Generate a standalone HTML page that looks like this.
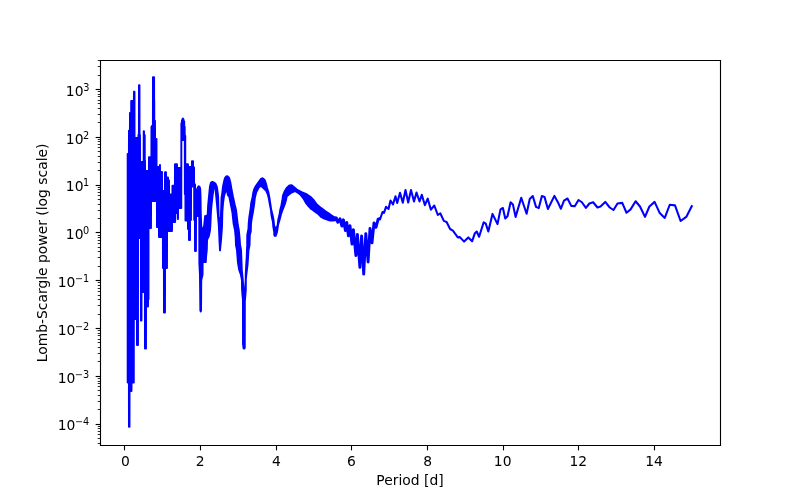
<!DOCTYPE html>
<html><head><meta charset="utf-8"><style>html,body{margin:0;padding:0;background:#fff;}svg{display:block;will-change:transform;}</style></head><body>
<svg width="800" height="500" viewBox="0 0 576 360" version="1.1">
 
 <defs>
  <style type="text/css">*{stroke-linejoin: round; stroke-linecap: butt}</style>
 </defs>
 <g id="figure_1">
  <g id="patch_1">
   <path d="M 0 360 
L 576 360 
L 576 0 
L 0 0 
z
" style="fill: #ffffff"/>
  </g>
  <g id="axes_1">
   <g id="patch_2">
    <path d="M 72 320.4 
L 518.4 320.4 
L 518.4 43.2 
L 72 43.2 
z
" style="fill: #ffffff"/>
   </g>
   <g id="matplotlib.axis_1">
    <g id="xtick_1">
     <g id="line2d_1">
      <defs>
       <path id="m5830cb89d6" d="M 0 0 
L 0 3.5 
" style="stroke: #000000; stroke-width: 0.8"/>
      </defs>
      <g>
       <use href="#m5830cb89d6" x="89.6400" y="320.7600" style="stroke: #000000; stroke-width: 0.8"/>
      </g>
     </g>
     <g id="text_1" transform="translate(0.6817 0.7808)">
      <text style="font-size: 10px; font-family: 'DejaVu Sans', sans-serif; text-anchor: middle" x="89.567297" y="334.998438" transform="rotate(-0 89.567297 334.998438)">0</text>
     </g>
    </g>
    <g id="xtick_2">
     <g id="line2d_2">
      <g>
       <use href="#m5830cb89d6" x="144.3600" y="320.7600" style="stroke: #000000; stroke-width: 0.8"/>
      </g>
     </g>
     <g id="text_2" transform="translate(0.0000 0.7148)">
      <text style="font-size: 10px; font-family: 'DejaVu Sans', sans-serif; text-anchor: middle" x="144.039536" y="334.998438" transform="rotate(-0 144.039536 334.998438)">2</text>
     </g>
    </g>
    <g id="xtick_3">
     <g id="line2d_3">
      <g>
       <use href="#m5830cb89d6" x="199.0800" y="320.7600" style="stroke: #000000; stroke-width: 0.8"/>
      </g>
     </g>
     <g id="text_3" transform="translate(0.5565 0.6737)">
      <text style="font-size: 10px; font-family: 'DejaVu Sans', sans-serif; text-anchor: middle" x="198.511775" y="334.998438" transform="rotate(-0 198.511775 334.998438)">4</text>
     </g>
    </g>
    <g id="xtick_4">
     <g id="line2d_4">
      <g>
       <use href="#m5830cb89d6" x="253.0800" y="320.7600" style="stroke: #000000; stroke-width: 0.8"/>
      </g>
     </g>
     <g id="text_4" transform="translate(0.0000 0.8018)">
      <text style="font-size: 10px; font-family: 'DejaVu Sans', sans-serif; text-anchor: middle" x="252.984015" y="334.998438" transform="rotate(-0 252.984015 334.998438)">6</text>
     </g>
    </g>
    <g id="xtick_5">
     <g id="line2d_5">
      <g>
       <use href="#m5830cb89d6" x="307.8000" y="320.7600" style="stroke: #000000; stroke-width: 0.8"/>
      </g>
     </g>
     <g id="text_5" transform="translate(0.4285 0.7590)">
      <text style="font-size: 10px; font-family: 'DejaVu Sans', sans-serif; text-anchor: middle" x="307.456254" y="334.998438" transform="rotate(-0 307.456254 334.998438)">8</text>
     </g>
    </g>
    <g id="xtick_6">
     <g id="line2d_6">
      <g>
       <use href="#m5830cb89d6" x="362.5200" y="320.7600" style="stroke: #000000; stroke-width: 0.8"/>
      </g>
     </g>
     <g id="text_6" transform="translate(0.0000 0.7494)">
      <text style="font-size: 10px; font-family: 'DejaVu Sans', sans-serif; text-anchor: middle" x="361.928493" y="334.998438" transform="rotate(-0 361.928493 334.998438)">10</text>
     </g>
    </g>
    <g id="xtick_7">
     <g id="line2d_7">
      <g>
       <use href="#m5830cb89d6" x="416.5200" y="320.7600" style="stroke: #000000; stroke-width: 0.8"/>
      </g>
     </g>
     <g id="text_7" transform="translate(0.0000 0.7138)">
      <text style="font-size: 10px; font-family: 'DejaVu Sans', sans-serif; text-anchor: middle" x="416.400732" y="334.998438" transform="rotate(-0 416.400732 334.998438)">12</text>
     </g>
    </g>
    <g id="xtick_8">
     <g id="line2d_8">
      <g>
       <use href="#m5830cb89d6" x="471.2400" y="320.7600" style="stroke: #000000; stroke-width: 0.8"/>
      </g>
     </g>
     <g id="text_8" transform="translate(0.0000 0.6912)">
      <text style="font-size: 10px; font-family: 'DejaVu Sans', sans-serif; text-anchor: middle" x="470.872971" y="334.998438" transform="rotate(-0 470.872971 334.998438)">14</text>
     </g>
    </g>
    <g id="text_9" transform="translate(0.0000 0.7630)">
     <text style="font-size: 10px; font-family: 'DejaVu Sans', sans-serif; text-anchor: middle" x="295.2" y="348.676562" transform="rotate(-0 295.2 348.676562)">Period [d]</text>
    </g>
    </g>
   <g id="matplotlib.axis_2">
    <g id="ytick_1">
     <g id="line2d_9">
      <defs>
       <path id="md306259b3c" d="M 0 0 
L -3.5 0 
" style="stroke: #000000; stroke-width: 0.8"/>
      </defs>
      <g>
       <use href="#md306259b3c" x="72.3600" y="305.6400" style="stroke: #000000; stroke-width: 0.8"/>
      </g>
     </g>
     <g id="text_10" transform="translate(0.0000 0.7513)">
      
      <g transform="translate(41.5 308.856985)">
       <text>
        <tspan x="0" y="-0.064063" style="font-size: 10px; font-family: 'DejaVu Sans', sans-serif">1</tspan>
        <tspan x="6.362305" y="-0.064063" style="font-size: 10px; font-family: 'DejaVu Sans', sans-serif">0</tspan>
        <tspan x="12.4232" y="-3.8922" style="font-size: 7px; font-family: 'DejaVu Sans', sans-serif">−</tspan>
        <tspan x="18.2884" y="-3.8922" style="font-size: 7px; font-family: 'DejaVu Sans', sans-serif">4</tspan>
       </text>
      </g>
    </g>
    </g>
    <g id="ytick_2">
     <g id="line2d_10">
      <g>
       <use href="#md306259b3c" x="72.3600" y="271.0800" style="stroke: #000000; stroke-width: 0.8"/>
      </g>
     </g>
     <g id="text_11" transform="translate(0.0000 2.1913)">
      
      <g transform="translate(41.5 274.42648)">
       <text>
        <tspan x="0" y="-0.976562" style="font-size: 10px; font-family: 'DejaVu Sans', sans-serif">1</tspan>
        <tspan x="6.362305" y="-0.976562" style="font-size: 10px; font-family: 'DejaVu Sans', sans-serif">0</tspan>
        <tspan x="12.4136" y="-4.1520" style="font-size: 7px; font-family: 'DejaVu Sans', sans-serif">−</tspan>
        <tspan x="18.2789" y="-4.1520" style="font-size: 7px; font-family: 'DejaVu Sans', sans-serif">3</tspan>
       </text>
      </g>
    </g>
    </g>
    <g id="ytick_3">
     <g id="line2d_11">
      <g>
       <use href="#md306259b3c" x="72.3600" y="236.5200" style="stroke: #000000; stroke-width: 0.8"/>
      </g>
     </g>
     <g id="text_12" transform="translate(0.0000 2.1913)">
      
      <g transform="translate(41.5 239.995974)">
       <text>
        <tspan x="0" y="-0.976562" style="font-size: 10px; font-family: 'DejaVu Sans', sans-serif">1</tspan>
        <tspan x="6.362305" y="-0.976562" style="font-size: 10px; font-family: 'DejaVu Sans', sans-serif">0</tspan>
        <tspan x="12.4303" y="-4.8047" style="font-size: 7px; font-family: 'DejaVu Sans', sans-serif">−</tspan>
        <tspan x="18.2955" y="-4.8047" style="font-size: 7px; font-family: 'DejaVu Sans', sans-serif">2</tspan>
       </text>
      </g>
    </g>
    </g>
    <g id="ytick_4">
     <g id="line2d_12">
      <g>
       <use href="#md306259b3c" x="72.3600" y="201.9600" style="stroke: #000000; stroke-width: 0.8"/>
      </g>
     </g>
     <g id="text_13" transform="translate(0.0000 1.4713)">
      
      <g transform="translate(41.5 205.565469)">
       <text>
        <tspan x="0" y="-0.064063" style="font-size: 10px; font-family: 'DejaVu Sans', sans-serif">1</tspan>
        <tspan x="6.362305" y="-0.064063" style="font-size: 10px; font-family: 'DejaVu Sans', sans-serif">0</tspan>
        <tspan x="12.4384" y="-3.8922" style="font-size: 7px; font-family: 'DejaVu Sans', sans-serif">−</tspan>
        <tspan x="18.3036" y="-3.8922" style="font-size: 7px; font-family: 'DejaVu Sans', sans-serif">1</tspan>
       </text>
      </g>
    </g>
    </g>
    <g id="ytick_5">
     <g id="line2d_13">
      <g>
       <use href="#md306259b3c" x="72.3600" y="167.4000" style="stroke: #000000; stroke-width: 0.8"/>
      </g>
     </g>
     <g id="text_14" transform="translate(0.0000 2.1896)">
      
      <g transform="translate(47.4 171.134963)">
       <text>
        <tspan x="0" y="-0.976562" style="font-size: 10px; font-family: 'DejaVu Sans', sans-serif">1</tspan>
        <tspan x="6.362305" y="-0.976562" style="font-size: 10px; font-family: 'DejaVu Sans', sans-serif">0</tspan>
        <tspan x="12.4434" y="-4.8047" style="font-size: 7px; font-family: 'DejaVu Sans', sans-serif">0</tspan>
       </text>
      </g>
    </g>
    </g>
    <g id="ytick_6">
     <g id="line2d_14">
      <g>
       <use href="#md306259b3c" x="72.3600" y="133.5600" style="stroke: #000000; stroke-width: 0.8"/>
      </g>
     </g>
     <g id="text_15" transform="translate(0.0000 0.7496)">
      
      <g transform="translate(47.4 136.704458)">
       <text>
        <tspan x="0" y="-0.064063" style="font-size: 10px; font-family: 'DejaVu Sans', sans-serif">1</tspan>
        <tspan x="6.362305" y="-0.064063" style="font-size: 10px; font-family: 'DejaVu Sans', sans-serif">0</tspan>
        <tspan x="12.4367" y="-3.2647" style="font-size: 7px; font-family: 'DejaVu Sans', sans-serif">1</tspan>
       </text>
      </g>
    </g>
    </g>
    <g id="ytick_7">
     <g id="line2d_15">
      <g>
       <use href="#md306259b3c" x="72.3600" y="99.0000" style="stroke: #000000; stroke-width: 0.8"/>
      </g>
     </g>
     <g id="text_16" transform="translate(0.0000 2.1896)">
      
      <g transform="translate(47.4 102.273952)">
       <text>
        <tspan x="0" y="-0.976562" style="font-size: 10px; font-family: 'DejaVu Sans', sans-serif">1</tspan>
        <tspan x="6.362305" y="-0.976562" style="font-size: 10px; font-family: 'DejaVu Sans', sans-serif">0</tspan>
        <tspan x="12.4275" y="-4.1746" style="font-size: 7px; font-family: 'DejaVu Sans', sans-serif">2</tspan>
       </text>
      </g>
    </g>
    </g>
    <g id="ytick_8">
     <g id="line2d_16">
      <g>
       <use href="#md306259b3c" x="72.3600" y="64.4400" style="stroke: #000000; stroke-width: 0.8"/>
      </g>
     </g>
     <g id="text_17" transform="translate(0.0000 2.1896)">
      
      <g transform="translate(47.4 67.843447)">
       <text>
        <tspan x="0" y="-0.976562" style="font-size: 10px; font-family: 'DejaVu Sans', sans-serif">1</tspan>
        <tspan x="6.362305" y="-0.976562" style="font-size: 10px; font-family: 'DejaVu Sans', sans-serif">0</tspan>
        <tspan x="12.4816" y="-4.8047" style="font-size: 7px; font-family: 'DejaVu Sans', sans-serif">3</tspan>
       </text>
      </g>
    </g>
    </g>
    <g id="ytick_9">
     <g id="line2d_17">
      <defs>
       <path id="mc47b0252c7" d="M 0 0 
L -2 0 
" style="stroke: #000000; stroke-width: 0.6"/>
      </defs>
      <g>
       <use href="#mc47b0252c7" x="72.3600" y="319.3200" style="stroke: #000000; stroke-width: 0.6"/>
      </g>
     </g>
    </g>
    <g id="ytick_10">
     <g id="line2d_18">
      <g>
       <use href="#mc47b0252c7" x="72.3600" y="315.7200" style="stroke: #000000; stroke-width: 0.6"/>
      </g>
     </g>
    </g>
    <g id="ytick_11">
     <g id="line2d_19">
      <g>
       <use href="#mc47b0252c7" x="72.3600" y="312.8400" style="stroke: #000000; stroke-width: 0.6"/>
      </g>
     </g>
    </g>
    <g id="ytick_12">
     <g id="line2d_20">
      <g>
       <use href="#mc47b0252c7" x="72.3600" y="310.6800" style="stroke: #000000; stroke-width: 0.6"/>
      </g>
     </g>
    </g>
    <g id="ytick_13">
     <g id="line2d_21">
      <g>
       <use href="#mc47b0252c7" x="72.3600" y="308.5200" style="stroke: #000000; stroke-width: 0.6"/>
      </g>
     </g>
    </g>
    <g id="ytick_14">
     <g id="line2d_22">
      <g>
       <use href="#mc47b0252c7" x="72.3600" y="307.0800" style="stroke: #000000; stroke-width: 0.6"/>
      </g>
     </g>
    </g>
    <g id="ytick_15">
     <g id="line2d_23">
      <g>
       <use href="#mc47b0252c7" x="72.3600" y="294.8400" style="stroke: #000000; stroke-width: 0.6"/>
      </g>
     </g>
    </g>
    <g id="ytick_16">
     <g id="line2d_24">
      <g>
       <use href="#mc47b0252c7" x="72.3600" y="289.0800" style="stroke: #000000; stroke-width: 0.6"/>
      </g>
     </g>
    </g>
    <g id="ytick_17">
     <g id="line2d_25">
      <g>
       <use href="#mc47b0252c7" x="72.3600" y="284.7600" style="stroke: #000000; stroke-width: 0.6"/>
      </g>
     </g>
    </g>
    <g id="ytick_18">
     <g id="line2d_26">
      <g>
       <use href="#mc47b0252c7" x="72.3600" y="281.1600" style="stroke: #000000; stroke-width: 0.6"/>
      </g>
     </g>
    </g>
    <g id="ytick_19">
     <g id="line2d_27">
      <g>
       <use href="#mc47b0252c7" x="72.3600" y="278.2800" style="stroke: #000000; stroke-width: 0.6"/>
      </g>
     </g>
    </g>
    <g id="ytick_20">
     <g id="line2d_28">
      <g>
       <use href="#mc47b0252c7" x="72.3600" y="276.1200" style="stroke: #000000; stroke-width: 0.6"/>
      </g>
     </g>
    </g>
    <g id="ytick_21">
     <g id="line2d_29">
      <g>
       <use href="#mc47b0252c7" x="72.3600" y="274.6800" style="stroke: #000000; stroke-width: 0.6"/>
      </g>
     </g>
    </g>
    <g id="ytick_22">
     <g id="line2d_30">
      <g>
       <use href="#mc47b0252c7" x="72.3600" y="272.5200" style="stroke: #000000; stroke-width: 0.6"/>
      </g>
     </g>
    </g>
    <g id="ytick_23">
     <g id="line2d_31">
      <g>
       <use href="#mc47b0252c7" x="72.3600" y="260.2800" style="stroke: #000000; stroke-width: 0.6"/>
      </g>
     </g>
    </g>
    <g id="ytick_24">
     <g id="line2d_32">
      <g>
       <use href="#mc47b0252c7" x="72.3600" y="254.5200" style="stroke: #000000; stroke-width: 0.6"/>
      </g>
     </g>
    </g>
    <g id="ytick_25">
     <g id="line2d_33">
      <g>
       <use href="#mc47b0252c7" x="72.3600" y="250.2000" style="stroke: #000000; stroke-width: 0.6"/>
      </g>
     </g>
    </g>
    <g id="ytick_26">
     <g id="line2d_34">
      <g>
       <use href="#mc47b0252c7" x="72.3600" y="246.6000" style="stroke: #000000; stroke-width: 0.6"/>
      </g>
     </g>
    </g>
    <g id="ytick_27">
     <g id="line2d_35">
      <g>
       <use href="#mc47b0252c7" x="72.3600" y="244.4400" style="stroke: #000000; stroke-width: 0.6"/>
      </g>
     </g>
    </g>
    <g id="ytick_28">
     <g id="line2d_36">
      <g>
       <use href="#mc47b0252c7" x="72.3600" y="241.5600" style="stroke: #000000; stroke-width: 0.6"/>
      </g>
     </g>
    </g>
    <g id="ytick_29">
     <g id="line2d_37">
      <g>
       <use href="#mc47b0252c7" x="72.3600" y="240.1200" style="stroke: #000000; stroke-width: 0.6"/>
      </g>
     </g>
    </g>
    <g id="ytick_30">
     <g id="line2d_38">
      <g>
       <use href="#mc47b0252c7" x="72.3600" y="237.9600" style="stroke: #000000; stroke-width: 0.6"/>
      </g>
     </g>
    </g>
    <g id="ytick_31">
     <g id="line2d_39">
      <g>
       <use href="#mc47b0252c7" x="72.3600" y="226.4400" style="stroke: #000000; stroke-width: 0.6"/>
      </g>
     </g>
    </g>
    <g id="ytick_32">
     <g id="line2d_40">
      <g>
       <use href="#mc47b0252c7" x="72.3600" y="219.9600" style="stroke: #000000; stroke-width: 0.6"/>
      </g>
     </g>
    </g>
    <g id="ytick_33">
     <g id="line2d_41">
      <g>
       <use href="#mc47b0252c7" x="72.3600" y="215.6400" style="stroke: #000000; stroke-width: 0.6"/>
      </g>
     </g>
    </g>
    <g id="ytick_34">
     <g id="line2d_42">
      <g>
       <use href="#mc47b0252c7" x="72.3600" y="212.7600" style="stroke: #000000; stroke-width: 0.6"/>
      </g>
     </g>
    </g>
    <g id="ytick_35">
     <g id="line2d_43">
      <g>
       <use href="#mc47b0252c7" x="72.3600" y="209.8800" style="stroke: #000000; stroke-width: 0.6"/>
      </g>
     </g>
    </g>
    <g id="ytick_36">
     <g id="line2d_44">
      <g>
       <use href="#mc47b0252c7" x="72.3600" y="207.7200" style="stroke: #000000; stroke-width: 0.6"/>
      </g>
     </g>
    </g>
    <g id="ytick_37">
     <g id="line2d_45">
      <g>
       <use href="#mc47b0252c7" x="72.3600" y="205.5600" style="stroke: #000000; stroke-width: 0.6"/>
      </g>
     </g>
    </g>
    <g id="ytick_38">
     <g id="line2d_46">
      <g>
       <use href="#mc47b0252c7" x="72.3600" y="203.4000" style="stroke: #000000; stroke-width: 0.6"/>
      </g>
     </g>
    </g>
    <g id="ytick_39">
     <g id="line2d_47">
      <g>
       <use href="#mc47b0252c7" x="72.3600" y="191.8800" style="stroke: #000000; stroke-width: 0.6"/>
      </g>
     </g>
    </g>
    <g id="ytick_40">
     <g id="line2d_48">
      <g>
       <use href="#mc47b0252c7" x="72.3600" y="185.4000" style="stroke: #000000; stroke-width: 0.6"/>
      </g>
     </g>
    </g>
    <g id="ytick_41">
     <g id="line2d_49">
      <g>
       <use href="#mc47b0252c7" x="72.3600" y="181.0800" style="stroke: #000000; stroke-width: 0.6"/>
      </g>
     </g>
    </g>
    <g id="ytick_42">
     <g id="line2d_50">
      <g>
       <use href="#mc47b0252c7" x="72.3600" y="178.2000" style="stroke: #000000; stroke-width: 0.6"/>
      </g>
     </g>
    </g>
    <g id="ytick_43">
     <g id="line2d_51">
      <g>
       <use href="#mc47b0252c7" x="72.3600" y="175.3200" style="stroke: #000000; stroke-width: 0.6"/>
      </g>
     </g>
    </g>
    <g id="ytick_44">
     <g id="line2d_52">
      <g>
       <use href="#mc47b0252c7" x="72.3600" y="173.1600" style="stroke: #000000; stroke-width: 0.6"/>
      </g>
     </g>
    </g>
    <g id="ytick_45">
     <g id="line2d_53">
      <g>
       <use href="#mc47b0252c7" x="72.3600" y="171.0000" style="stroke: #000000; stroke-width: 0.6"/>
      </g>
     </g>
    </g>
    <g id="ytick_46">
     <g id="line2d_54">
      <g>
       <use href="#mc47b0252c7" x="72.3600" y="169.5600" style="stroke: #000000; stroke-width: 0.6"/>
      </g>
     </g>
    </g>
    <g id="ytick_47">
     <g id="line2d_55">
      <g>
       <use href="#mc47b0252c7" x="72.3600" y="157.3200" style="stroke: #000000; stroke-width: 0.6"/>
      </g>
     </g>
    </g>
    <g id="ytick_48">
     <g id="line2d_56">
      <g>
       <use href="#mc47b0252c7" x="72.3600" y="151.5600" style="stroke: #000000; stroke-width: 0.6"/>
      </g>
     </g>
    </g>
    <g id="ytick_49">
     <g id="line2d_57">
      <g>
       <use href="#mc47b0252c7" x="72.3600" y="147.2400" style="stroke: #000000; stroke-width: 0.6"/>
      </g>
     </g>
    </g>
    <g id="ytick_50">
     <g id="line2d_58">
      <g>
       <use href="#mc47b0252c7" x="72.3600" y="143.6400" style="stroke: #000000; stroke-width: 0.6"/>
      </g>
     </g>
    </g>
    <g id="ytick_51">
     <g id="line2d_59">
      <g>
       <use href="#mc47b0252c7" x="72.3600" y="140.7600" style="stroke: #000000; stroke-width: 0.6"/>
      </g>
     </g>
    </g>
    <g id="ytick_52">
     <g id="line2d_60">
      <g>
       <use href="#mc47b0252c7" x="72.3600" y="138.6000" style="stroke: #000000; stroke-width: 0.6"/>
      </g>
     </g>
    </g>
    <g id="ytick_53">
     <g id="line2d_61">
      <g>
       <use href="#mc47b0252c7" x="72.3600" y="136.4400" style="stroke: #000000; stroke-width: 0.6"/>
      </g>
     </g>
    </g>
    <g id="ytick_54">
     <g id="line2d_62">
      <g>
       <use href="#mc47b0252c7" x="72.3600" y="135.0000" style="stroke: #000000; stroke-width: 0.6"/>
      </g>
     </g>
    </g>
    <g id="ytick_55">
     <g id="line2d_63">
      <g>
       <use href="#mc47b0252c7" x="72.3600" y="122.7600" style="stroke: #000000; stroke-width: 0.6"/>
      </g>
     </g>
    </g>
    <g id="ytick_56">
     <g id="line2d_64">
      <g>
       <use href="#mc47b0252c7" x="72.3600" y="117.0000" style="stroke: #000000; stroke-width: 0.6"/>
      </g>
     </g>
    </g>
    <g id="ytick_57">
     <g id="line2d_65">
      <g>
       <use href="#mc47b0252c7" x="72.3600" y="112.6800" style="stroke: #000000; stroke-width: 0.6"/>
      </g>
     </g>
    </g>
    <g id="ytick_58">
     <g id="line2d_66">
      <g>
       <use href="#mc47b0252c7" x="72.3600" y="109.0800" style="stroke: #000000; stroke-width: 0.6"/>
      </g>
     </g>
    </g>
    <g id="ytick_59">
     <g id="line2d_67">
      <g>
       <use href="#mc47b0252c7" x="72.3600" y="106.2000" style="stroke: #000000; stroke-width: 0.6"/>
      </g>
     </g>
    </g>
    <g id="ytick_60">
     <g id="line2d_68">
      <g>
       <use href="#mc47b0252c7" x="72.3600" y="104.0400" style="stroke: #000000; stroke-width: 0.6"/>
      </g>
     </g>
    </g>
    <g id="ytick_61">
     <g id="line2d_69">
      <g>
       <use href="#mc47b0252c7" x="72.3600" y="101.8800" style="stroke: #000000; stroke-width: 0.6"/>
      </g>
     </g>
    </g>
    <g id="ytick_62">
     <g id="line2d_70">
      <g>
       <use href="#mc47b0252c7" x="72.3600" y="100.4400" style="stroke: #000000; stroke-width: 0.6"/>
      </g>
     </g>
    </g>
    <g id="ytick_63">
     <g id="line2d_71">
      <g>
       <use href="#mc47b0252c7" x="72.3600" y="88.2000" style="stroke: #000000; stroke-width: 0.6"/>
      </g>
     </g>
    </g>
    <g id="ytick_64">
     <g id="line2d_72">
      <g>
       <use href="#mc47b0252c7" x="72.3600" y="82.4400" style="stroke: #000000; stroke-width: 0.6"/>
      </g>
     </g>
    </g>
    <g id="ytick_65">
     <g id="line2d_73">
      <g>
       <use href="#mc47b0252c7" x="72.3600" y="78.1200" style="stroke: #000000; stroke-width: 0.6"/>
      </g>
     </g>
    </g>
    <g id="ytick_66">
     <g id="line2d_74">
      <g>
       <use href="#mc47b0252c7" x="72.3600" y="74.5200" style="stroke: #000000; stroke-width: 0.6"/>
      </g>
     </g>
    </g>
    <g id="ytick_67">
     <g id="line2d_75">
      <g>
       <use href="#mc47b0252c7" x="72.3600" y="72.3600" style="stroke: #000000; stroke-width: 0.6"/>
      </g>
     </g>
    </g>
    <g id="ytick_68">
     <g id="line2d_76">
      <g>
       <use href="#mc47b0252c7" x="72.3600" y="69.4800" style="stroke: #000000; stroke-width: 0.6"/>
      </g>
     </g>
    </g>
    <g id="ytick_69">
     <g id="line2d_77">
      <g>
       <use href="#mc47b0252c7" x="72.3600" y="68.0400" style="stroke: #000000; stroke-width: 0.6"/>
      </g>
     </g>
    </g>
    <g id="ytick_70">
     <g id="line2d_78">
      <g>
       <use href="#mc47b0252c7" x="72.3600" y="65.8800" style="stroke: #000000; stroke-width: 0.6"/>
      </g>
     </g>
    </g>
    <g id="ytick_71">
     <g id="line2d_79">
      <g>
       <use href="#mc47b0252c7" x="72.3600" y="54.3600" style="stroke: #000000; stroke-width: 0.6"/>
      </g>
     </g>
    </g>
    <g id="ytick_72">
     <g id="line2d_80">
      <g>
       <use href="#mc47b0252c7" x="72.3600" y="47.8800" style="stroke: #000000; stroke-width: 0.6"/>
      </g>
     </g>
    </g>
    <g id="ytick_73">
     <g id="line2d_81">
      <g>
       <use href="#mc47b0252c7" x="72.3600" y="43.5600" style="stroke: #000000; stroke-width: 0.6"/>
      </g>
     </g>
    </g>
    <g id="text_18" transform="translate(-1.4364 0.2805)">
     <text style="font-size: 10px; font-family: 'DejaVu Sans', sans-serif; text-anchor: middle" x="35.420313" y="181.8" transform="rotate(-90 35.420313 181.8)">Lomb-Scargle power (log scale)</text>
    </g>
    </g>
   <g transform="scale(0.72)"><path d="M127.65 153.95 L128.15 153.93 L128.5 153.77 L128.8 153.42 L128.9 153 L128.95 130.7 L129.3 130.63 L129.6 130.44 L129.8 130.17 L129.9 129.75 L129.95 112.95 L130.45 112.92 L130.8 112.74 L131.05 112.42 L131.15 112 L131.2 100.95 L133.15 100.93 L133.6 100.69 L133.85 100.3 L133.9 100 L133.95 91.7 L134.5 91.7 L134.55 137 L134.6 137.3 L134.75 137.58 L134.95 137.77 L135.25 137.92 L137.5 137.95 L137.9 137.84 L138.2 137.58 L138.35 137.3 L138.45 135.06 L138.7 134.83 L138.85 134.55 L138.9 134.25 L138.95 85.2 L139.5 85.2 L139.55 134.25 L139.65 134.67 L140 135.06 L140.05 161 L140.15 161.42 L140.35 161.69 L140.65 161.88 L141 161.95 L142.7 161.95 L143 161.9 L143.25 161.77 L143.45 161.58 L143.6 161.3 L143.65 161 L143.7 131.2 L144 131.2 L144.05 134.25 L144.1 134.55 L144.35 134.94 L144.75 135.17 L144.8 160 L144.85 160.3 L145 160.58 L145.05 170 L145.1 170.3 L145.3 170.64 L145.55 170.84 L145.9 170.94 L148.15 170.93 L148.6 170.69 L148.85 170.3 L148.9 170 L148.95 157.2 L150.5 157.2 L150.8 157.13 L151.05 156.99 L151.25 156.76 L151.4 156.25 L151.45 126.81 L151.75 126.51 L151.95 125.95 L152.35 125.86 L152.7 125.58 L152.85 125.3 L152.9 125 L152.95 77.25 L154.1 77.25 L154.15 100 L154.25 100.42 L154.3 120 L154.35 120.3 L154.5 120.58 L154.7 120.77 L155 120.92 L155.05 138 L155.15 138.42 L155.5 138.81 L155.85 138.94 L156.5 138.95 L156.55 166 L156.6 166.3 L156.75 166.58 L156.95 166.77 L157.2 166.9 L157.5 166.95 L159 166.95 L159.25 166.9 L159.6 166.69 L159.85 166.3 L159.95 164.95 L160 164.95 L160.05 171 L160.1 171.3 L160.35 171.69 L160.7 171.9 L162 171.95 L162.05 190 L162.15 190.42 L162.4 190.74 L162.75 190.92 L164 190.95 L164.5 190.77 L164.7 190.58 L164.85 190.3 L164.9 190 L164.95 172.2 L166 172.2 L166.05 176.5 L166.1 176.8 L166.35 177.19 L166.7 177.4 L168 177.45 L168.1 179.8 L168.25 180.08 L168.45 180.27 L168.7 180.4 L169 180.45 L169.05 193.5 L169.1 193.8 L169.4 194.24 L169.9 194.44 L171.6 194.44 L171.95 194.31 L172.2 194.08 L172.35 193.8 L172.4 193.5 L172.45 185.7 L174 185.7 L174.3 185.63 L174.55 185.49 L174.75 185.26 L174.9 184.75 L174.95 164.2 L177 164.2 L177.05 167 L177.2 167.51 L177.6 167.86 L177.95 167.95 L180.5 167.94 L180.95 167.74 L181.25 167.3 L181.3 167 L181.35 123.36 L181.65 123.14 L181.85 122.8 L181.95 120.4 L182.25 120.24 L182.5 119.92 L182.6 119.5 L182.65 118.66 L182.95 118.5 L183.1 119.01 L183.5 119.36 L183.55 120.5 L183.65 120.92 L183.9 121.24 L184.2 121.4 L184.25 126 L184.35 126.42 L184.7 126.81 L184.75 135 L184.9 135.51 L185.25 135.84 L185.3 163.25 L185.35 163.55 L185.6 163.94 L186.05 164.18 L188 164.2 L188.1 166.3 L188.25 166.58 L188.55 166.84 L189 166.95 L190.95 166.95 L191.25 166.9 L191.5 166.77 L191.7 166.58 L191.85 166.3 L191.9 166 L191.95 161.2 L193.05 161.2 L193.1 166.5 L193.2 166.92 L193.4 167.19 L193.7 167.38 L194.05 167.45 L194.1 183.5 L194.2 183.92 L194.4 184.19 L194.7 184.38 L195.05 184.45 L195.1 189.38 L195.15 189.68 L195.4 190.07 L195.8 190.29 L196.3 190.29 L196.7 190.07 L196.9 189.8 L197.65 187.93 L198.25 186.64 L198.7 186.32 L199.05 186.39 L199.65 186.99 L200.25 189.13 L200.55 197 L200.75 212 L201.15 224 L201.55 228 L201.6 228.3 L201.75 228.58 L202.05 228.84 L202.45 228.95 L202.85 228.88 L203.15 228.69 L203.4 228.3 L204.1 226.3 L205.15 215.92 L205.4 216.24 L205.75 216.42 L206.15 216.44 L206.5 216.31 L206.8 216.01 L207.7 214.3 L208.15 205 L209.9 187 L209.95 186.6 L210.9 182.9 L211.5 182.18 L212.4 181.99 L213.6 182.37 L214.9 183.24 L215.7 184.04 L216.85 186.85 L217.8 193.5 L218.15 197 L218.65 217 L218.75 217.42 L219.1 217.81 L219.5 217.94 L220.15 217.92 L220.45 217.77 L220.65 217.58 L220.8 217.3 L220.85 217 L221.55 197.12 L221.95 195.5 L222.95 187.05 L223.9 182.3 L224.9 178.34 L225.75 176.92 L226.45 176.37 L227.15 176.21 L227.9 176.57 L229.15 177.98 L230.35 182.3 L231.6 189.8 L232.85 196.3 L234.6 204.3 L236.05 210.1 L237.8 225 L238.8 230.05 L239.55 237.5 L240.05 245 L241.05 250.05 L241.8 270 L242.8 280 L243.25 288 L243.3 288.3 L243.45 288.58 L243.65 288.77 L243.9 288.9 L244.25 288.95 L244.6 288.86 L244.9 288.64 L245.1 288.3 L245.7 280 L245.75 274 L246.2 265 L246.7 257.5 L246.95 250 L247.2 245 L247.25 234.82 L248.45 229 L248.7 223 L249.2 218 L250.7 208 L251.2 203.1 L252.4 198.3 L253.15 193.33 L254.15 189.32 L255.85 185.94 L260.7 179.18 L262.15 178.28 L263.25 178.62 L264.9 180.47 L265.85 183.3 L266.85 187.3 L268.35 192.3 L269.4 197.6 L271.35 210.3 L272.6 215.3 L273.55 220.05 L274.1 225.3 L274.6 227.3 L274.75 227.58 L275.05 227.84 L275.3 227.93 L275.6 227.94 L275.9 227.86 L276.15 227.69 L277.05 226.51 L277.65 225.3 L278.2 220.1 L279.4 215.3 L280.15 210.33 L281.4 205.3 L282.4 200.3 L282.95 195.68 L284.85 190.93 L286.7 187.92 L289.4 185.42 L291.7 185.24 L294.4 187.49 L296.75 189.56 L301.6 192.06 L306.95 194.44 L310.35 196.71 L313.25 199.59 L316.3 203.84 L321.2 208.14 L325.45 211.17 L329 213.54 L329.95 214.37 L333.5 216.81 L333.8 216.93 L336.2 217.41 L336.75 217.63 L336.75 220.42 L336.4 220.14 L336 220.05 L333.4 220.55 L330.15 220.55 L324.35 218.61 L321.55 217.21 L318.6 214.26 L315.1 211.76 L312.55 209.73 L311.55 209.21 L308.7 206.36 L306.3 203.48 L303.8 198.99 L300.65 194.81 L298.55 193.23 L295.5 191.19 L295.15 191.06 L294.75 191.08 L290.45 193.23 L286.85 196.31 L286.65 196.58 L286.1 199.7 L284.6 204.7 L282.6 209.7 L280.85 214.7 L279.6 219.7 L278.1 224.7 L277.05 231.85 L275.8 235.75 L275.75 235.8 L274.65 235.8 L274.25 234.93 L274.2 232 L273.2 226 L272.95 222 L272.15 218.7 L271.45 214.96 L270.9 209.7 L269.9 204.7 L268.65 197.7 L267.9 194.7 L266.25 190.92 L262.15 186.81 L261.85 186.62 L260.4 186.06 L259.9 186.12 L259.5 186.42 L258.15 188.58 L256.1 192.7 L254.85 197.7 L254.3 203 L252.85 212.67 L251.85 217.7 L251.05 223 L250.95 225 L250.8 231.37 L249.8 235 L249.55 244.95 L248.55 250 L247.55 265 L246.3 275 L245.85 279.5 L245.8 290 L244.85 301.52 L244.8 347.74 L244.25 348.65 L243.95 348.65 L243.5 348.08 L243 343.92 L242.95 300 L242.45 295 L242 288.7 L241.95 280 L240.9 274.7 L239.15 269.7 L237.95 262.5 L236.95 250 L235.95 244.95 L235.7 237.5 L234.95 230 L233.9 224.7 L233.7 224.36 L232.3 211.7 L229.3 196.7 L229.1 196.36 L228.1 195.48 L227.15 191.7 L226.9 191.31 L226.5 191.08 L226 191.08 L225.6 191.31 L225.35 191.7 L224.1 195.7 L223.85 197 L223.05 203 L222.35 212 L222.05 226 L221.05 240 L220 250.34 L219.45 240 L218.85 226 L216.95 204 L215.45 188.5 L215.4 188.2 L215.2 187.86 L214.95 187.66 L214.65 187.56 L214.3 187.57 L214 187.69 L213.75 187.92 L213.6 188.2 L212.55 196 L211.55 205 L210.95 212 L210.35 225.8 L210.05 229.95 L209.1 234.7 L208.6 236.68 L207.15 239.58 L207.05 240 L206.8 250 L206.05 257 L205.8 262.05 L203.35 262.08 L203.05 262.23 L202.85 262.42 L202.7 262.7 L202.65 263 L202.55 274.89 L201.25 280 L201.05 310.38 L200.75 311.46 L200.35 310.35 L199.95 275 L199.35 263 L199.25 217 L199.1 216.49 L198.7 216.14 L198.35 216.05 L197.05 216.05 L196.65 216.12 L196.35 216.31 L196.15 216.58 L196.05 217 L195.95 251.05 L195 251.05 L194.95 221 L194.9 220.7 L194.75 220.42 L194.5 220.19 L194.2 220.07 L194.15 187.5 L194.1 187.2 L193.9 186.86 L193.65 186.66 L193.35 186.56 L191.8 186.57 L191.4 186.76 L191.15 187.08 L191.05 187.5 L191 220.05 L190.65 220.12 L190.35 220.31 L190.15 220.58 L190.05 221 L190 240.05 L188.95 240.05 L188.9 230 L188.8 229.58 L188.6 229.31 L188.3 229.12 L187.95 229.05 L187.9 221.5 L187.85 221.2 L187.6 220.81 L187.2 220.58 L185.45 220.55 L185.4 195 L185.25 194.49 L184.85 194.14 L184.8 141 L184.75 140.7 L184.6 140.42 L184.35 140.19 L184.05 140.07 L182.2 140.06 L181.7 140.26 L181.45 140.58 L181.35 141 L181.3 208.05 L178.8 208.07 L178.35 208.31 L178.1 208.7 L178.05 209 L178 219.05 L177.85 219.06 L177.8 214 L177.7 213.58 L177.45 213.26 L177.15 213.1 L176.15 213.05 L175.65 213.23 L175.45 213.42 L175.3 213.7 L175.25 214 L175.2 220.99 L175.1 221.2 L175 222.05 L172.8 222.07 L172.35 222.31 L172.1 222.7 L172.05 223 L172 231.05 L167.8 231.07 L167.5 231.19 L167.25 231.42 L167.1 231.7 L167.05 232 L167 268.05 L165.95 268.05 L165.6 268.14 L165.2 268.49 L165.05 269 L165 312.55 L163.95 312.55 L163.9 269 L163.8 268.58 L163.6 268.31 L163.3 268.12 L162.95 268.05 L162.9 238 L162.85 237.7 L162.7 237.42 L162.45 237.19 L162.15 237.07 L158.95 237.05 L158.9 228 L158.85 227.7 L158.6 227.31 L158.25 227.1 L156.95 227.05 L156.9 202 L156.85 201.7 L156.7 201.42 L156.5 201.23 L156.25 201.1 L155.95 201.05 L151.9 201.06 L151.45 201.23 L151.15 201.58 L151.05 202 L151 228.05 L149.45 228.05 L149.15 228.12 L148.9 228.26 L148.7 228.49 L148.55 229 L148.5 299.19 L148.15 299.58 L148.05 300 L148 306.55 L146.95 306.55 L146.6 306.64 L146.2 306.99 L146.05 307.5 L146 348.55 L144.95 348.55 L144.9 293 L144.85 292.7 L144.6 292.31 L144.2 292.08 L142.4 292.06 L142.05 292.16 L141.8 292.36 L141.6 292.7 L141.55 293 L141.5 320.55 L140.95 320.55 L140.9 239 L140.85 238.7 L140.65 238.36 L140.4 238.16 L140.1 238.06 L138.75 238.08 L138.4 238.26 L138.15 238.58 L138.05 239 L138 345.05 L136.95 345.05 L136.9 320 L136.85 319.7 L136.6 319.31 L136.2 319.08 L134.7 319.06 L134.35 319.16 L134.1 319.36 L133.9 319.7 L133.85 320 L133.8 382.45 L132.25 382.48 L131.9 382.66 L131.65 382.98 L131.55 383.4 L131.5 391.05 L130.45 391.05 L130.1 391.14 L129.7 391.49 L129.55 392 L129.5 426.85 L128.95 426.85 L128.9 383.4 L128.8 382.98 L128.5 382.63 L128.15 382.47 L127.65 382.45Z" fill="#0000ff" stroke="#0000ff" stroke-width="1.9" stroke-linejoin="round"/><path d="M335.7 217.5 L337.9 222.3 L340 218.65 L341.9 226.1 L343.4 219.85 L345.4 230.6 L346.8 222.45 L348.4 235.8 L350 225.65 L352 244 L353.4 229.65 L355.9 255.5 L357.4 234.45 L359.9 267.4 L361.6 235.85 L363.7 274.1 L365.8 233.65 L368.1 262 L370 228.45 L372 242.9 L374 222.85 L376 227.3 L378.4 218.2" fill="none" stroke="#0000ff" stroke-width="2.9" stroke-linejoin="round" stroke-linecap="round"/><path d="M378.4 217.6 L380 219.5 L382.5 212 L384 212.8 L386 206.8 L388.5 209 L390.5 200.5 L393 204.5 L395.5 196.2 L397.2 203 L400 192.8 L402.8 202.8 L405.5 190 L408.2 202.5 L411 190 L414 201.5 L416.5 192.5 L419.5 201.5 L421.8 194.8 L424.9 205.2 L427.7 198.6 L430.9 209.7 L434.3 205.5 L437.8 215 L440.3 213.3 L443.8 220.9 L446.6 222 L450.1 229 L452.9 230.7 L457.8 237.4 L459.9 237.1 L464.1 241.6 L468.3 237.4 L472.1 241.3 L474.9 233.2 L476.7 231.5 L479.1 236.7 L483.7 222.3 L485.8 223.7 L488.3 231.5 L492.5 213.9 L497.5 224.1 L500.5 209.4 L502.9 208 L505.25 218.5 L507.5 216.25 L510.6 202.25 L512.9 204.4 L515.6 216.9 L521.25 197.75 L526.6 213.75 L529.75 199 L532.75 196 L536 206.9 L538.75 208.1 L541.9 196 L544.5 196.9 L547.9 209 L554.4 195.9 L557.75 201.9 L560.9 208.75 L564 200.6 L567.5 198.5 L571.25 205.9 L574.75 206.25 L578.5 200 L581.9 202.25 L585.9 207.9 L589.4 203.5 L593.1 202.25 L597.5 207.5 L600.5 206.5 L605.25 201.9 L609.75 207.5 L613.5 210 L617.5 203.5 L622.25 202.9 L626.5 212.75 L630.6 209.4 L635.6 201.25 L640 206.5 L645 216.9 L649.4 206.5 L654.6 201.9 L659.75 213.1 L664.75 217.9 L669.75 204.75 L675 205.4 L680.6 221 L686.25 216.9 L692.25 205.25" fill="none" stroke="#0000ff" stroke-width="2.083" stroke-linejoin="round" stroke-linecap="butt"/></g>
   <g id="patch_3">
    <path d="M 72.3600 320.7600 
L 72.3600 43.5600 
" style="fill: none; stroke: #000000; stroke-width: 0.8; stroke-linejoin: miter; stroke-linecap: square"/>
   </g>
   <g id="patch_4">
    <path d="M 518.7600 320.7600 
L 518.7600 43.5600 
" style="fill: none; stroke: #000000; stroke-width: 0.8; stroke-linejoin: miter; stroke-linecap: square"/>
   </g>
   <g id="patch_5">
    <path d="M 72.3600 320.7600 
L 518.7600 320.7600 
" style="fill: none; stroke: #000000; stroke-width: 0.8; stroke-linejoin: miter; stroke-linecap: square"/>
   </g>
   <g id="patch_6">
    <path d="M 72.3600 43.5600 
L 518.7600 43.5600 
" style="fill: none; stroke: #000000; stroke-width: 0.8; stroke-linejoin: miter; stroke-linecap: square"/>
   </g>
  </g>
 </g>
 <defs>
  <clipPath id="p22b6b9f8c0">
   <rect x="72" y="43.2" width="446.4" height="277.2"/>
  </clipPath>
 </defs>
</svg>

</body></html>
